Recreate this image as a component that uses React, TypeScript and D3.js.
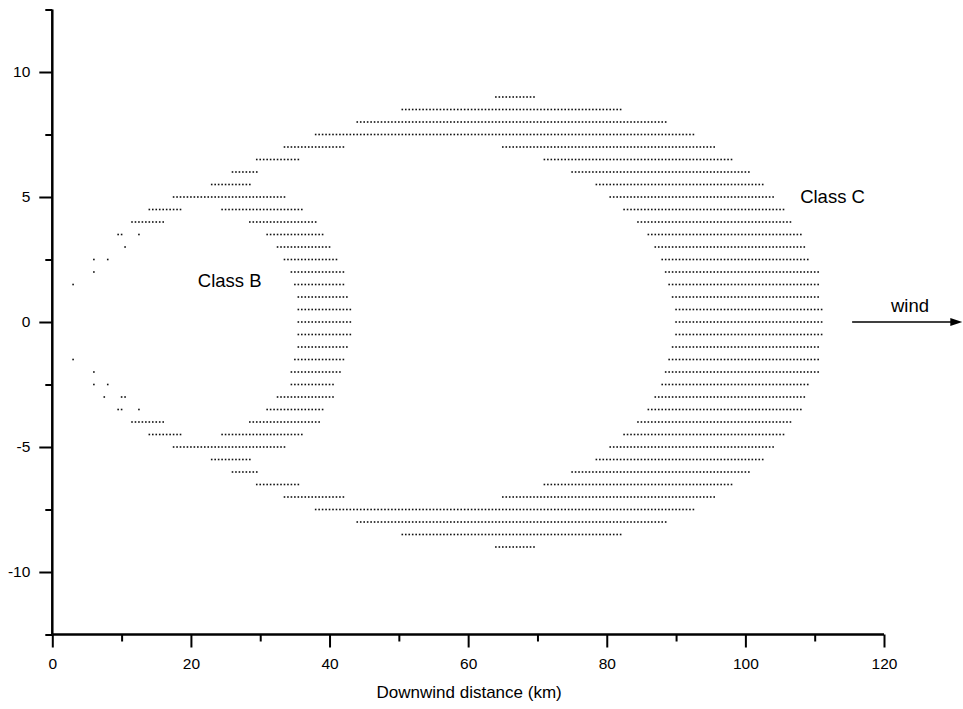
import { useEffect, useRef } from 'react'
import * as d3 from 'd3'

// grid rows of the plume contours, y in km (crosswind), segments in km downwind (0.5 km grid)
const rowY = [
  9, 8.5, 8, 7.5, 7, 6.5, 6, 5.5, 5, 4.5, 4, 3.5, 3, 2.5, 2, 1.5, 1, 0.5, 0,
  -0.5, -1, -1.5, -2, -2.5, -3, -3.5, -4, -4.5, -5, -5.5, -6, -6.5, -7, -7.5, -8, -8.5, -9,
]
const rowSegments: number[][][] = [
  [[64, 69.5]],
  [[50.5, 82]],
  [[44, 88.5]],
  [[38, 92.5]],
  [[33.5, 42], [65, 95.5]],
  [[29.5, 35.5], [71, 98]],
  [[26, 29.5], [75, 100.5]],
  [[23, 28.5], [78.5, 102.5]],
  [[17.5, 33.5], [80.5, 104]],
  [[14, 18.5], [24.5, 36], [82.5, 105.5]],
  [[11.5, 16], [28.5, 38], [84.5, 106.5]],
  [[9.5, 10], [12.5, 12.5], [31, 39], [86, 108]],
  [[10.5, 10.5], [32.5, 40], [87, 108.5]],
  [[6, 6], [8, 8], [33.5, 41], [88, 109]],
  [[6, 6], [34.5, 42], [88.5, 110.5]],
  [[3, 3], [35, 42], [89, 110.5]],
  [[35.5, 42.5], [89.5, 110.5]],
  [[35.5, 43], [90, 111]],
  [[35.5, 43], [90, 111]],
  [[35.5, 43], [90, 111]],
  [[35.5, 42.5], [89.5, 110.5]],
  [[3, 3], [35, 42], [89, 110.5]],
  [[6, 6], [34.5, 41.5], [88.5, 110.5]],
  [[6, 6], [8, 8], [34.5, 40.5], [88, 109]],
  [[7.5, 7.5], [10, 10.5], [32.5, 40.5], [87, 108.5]],
  [[9.5, 10], [12.5, 12.5], [31, 39], [86, 108]],
  [[11.5, 16], [28.5, 38.5], [84.5, 106.5]],
  [[14, 18.5], [24.5, 36], [82.5, 105.5]],
  [[17.5, 33.5], [80.5, 104]],
  [[23, 28.5], [78.5, 102.5]],
  [[26, 29.5], [75, 100.5]],
  [[29.5, 35.5], [71, 98]],
  [[33.5, 42], [65, 95.5]],
  [[38, 92.5]],
  [[44, 88.5]],
  [[50.5, 82]],
  [[64, 69.5]],
]

const xMajor = [0, 20, 40, 60, 80, 100, 120]
const xMinor = [10, 30, 50, 70, 90, 110]
const yMajor = [-10, -5, 0, 5, 10]
const yMinor = [-12.5, -7.5, -2.5, 2.5, 7.5, 12.5]

const labels = [
  { text: 'Class B', x: 21, y: 1.4 },
  { text: 'Class C', x: 107.9, y: 4.75 },
  { text: 'wind', x: 121, y: 0.4 },
]
const windArrow = [115.4, 131.3]

const W = 963
const H = 709
const FONT = "Arial, 'Liberation Sans', sans-serif"

export default function App() {
  const ref = useRef<SVGSVGElement>(null)

  useEffect(() => {
    const svg = d3.select(ref.current)
    svg.selectAll('*').remove()

    const x = d3.scaleLinear().domain([0, 120]).range([52.3, 884])
    const y = d3.scaleLinear().domain([-12.5, 12.5]).range([634.5, 9.5])

    // points
    const pts: [number, number][] = []
    rowY.forEach((yy, i) => {
      rowSegments[i].forEach(([a, b]) => {
        d3.range(a, b + 0.25, 0.5).forEach((xx) => pts.push([xx, yy]))
      })
    })
    svg
      .append('g')
      .selectAll('rect')
      .data(pts)
      .join('rect')
      .attr('x', (d) => x(d[0]) - 0.8)
      .attr('y', (d) => y(d[1]) - 0.8)
      .attr('width', 1.6)
      .attr('height', 1.6)
      .attr('fill', '#111')

    const styleAxis = (g: any) => {
      g.select('.domain').remove()
      g.selectAll('line').attr('stroke', '#000').attr('stroke-width', 2)
      g.selectAll('text').attr('fill', '#000').attr('font-family', FONT).attr('font-size', 15.5)
    }

    // x axis
    svg
      .append('g')
      .attr('transform', `translate(0,${y(-12.5)})`)
      .call(d3.axisBottom(x).tickValues(xMajor).tickSize(13).tickPadding(10).tickFormat((d) => String(d)))
      .call(styleAxis)
    svg
      .append('g')
      .attr('transform', `translate(0,${y(-12.5)})`)
      .call(d3.axisBottom(x).tickValues(xMinor).tickSize(7).tickFormat(() => ''))
      .call(styleAxis)

    // y axis
    svg
      .append('g')
      .attr('transform', `translate(${x(0)},0)`)
      .call(d3.axisLeft(y).tickValues(yMajor).tickSize(13).tickPadding(9).tickFormat((d) => String(d)))
      .call(styleAxis)
    svg
      .append('g')
      .attr('transform', `translate(${x(0)},0)`)
      .call(d3.axisLeft(y).tickValues(yMinor).tickSize(7).tickFormat(() => ''))
      .call(styleAxis)

    // axis lines
    svg
      .append('line')
      .attr('x1', x(0)).attr('x2', x(120))
      .attr('y1', y(-12.5)).attr('y2', y(-12.5))
      .attr('stroke', '#000').attr('stroke-width', 2.5)
    svg
      .append('line')
      .attr('x1', x(0)).attr('x2', x(0))
      .attr('y1', y(12.5)).attr('y2', y(-12.5))
      .attr('stroke', '#000').attr('stroke-width', 2.5)

    svg
      .append('text')
      .attr('x', (x(0) + x(120)) / 2 + 1)
      .attr('y', 698)
      .attr('text-anchor', 'middle')
      .attr('font-family', FONT)
      .attr('font-size', 17)
      .text('Downwind distance (km)')

    svg
      .selectAll('text.note')
      .data(labels)
      .join('text')
      .attr('class', 'note')
      .attr('x', (d) => x(d.x))
      .attr('y', (d) => y(d.y))
      .attr('font-family', FONT)
      .attr('font-size', 18.5)
      .text((d) => d.text)

    // wind arrow
    const ax0 = x(windArrow[0])
    const ax1 = x(windArrow[1])
    svg
      .append('line')
      .attr('x1', ax0).attr('x2', ax1 - 8)
      .attr('y1', y(0)).attr('y2', y(0))
      .attr('stroke', '#000').attr('stroke-width', 1.5)
    svg
      .append('path')
      .attr('d', `M${ax1},${y(0)} L${ax1 - 12},${y(0) - 4} L${ax1 - 12},${y(0) + 4} Z`)
      .attr('fill', '#000')
  }, [])

  return (
    <>
      <style>{'body{margin:0;background:#fff}'}</style>
      <svg ref={ref} width={W} height={H} style={{ display: 'block' }} />
    </>
  )
}
